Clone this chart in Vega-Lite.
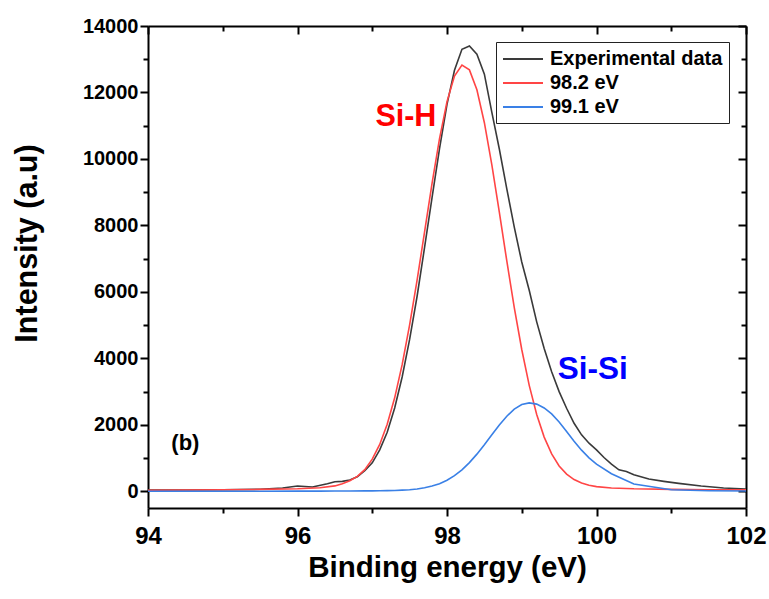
{
  "$schema": "https://vega.github.io/schema/vega-lite/v6.json",
  "width": 598,
  "height": 482,
  "autosize": "none",
  "padding": {"left": 148, "top": 26, "right": 23, "bottom": 91},
  "background": "white",
  "config": {
    "view": {"stroke": null},
    "font": "Liberation Sans",
    "axis": {"grid": false, "domainColor": "black", "domainWidth": 2, "tickColor": "black", "tickWidth": 2, "labelColor": "black", "titleColor": "black", "labelFont": "Liberation Sans", "titleFont": "Liberation Sans", "labelFontWeight": "bold", "titleFontWeight": "bold", "labelFlush": false, "labelOverlap": false}
  },
  "datasets": {
    "spectra": [
      {"x": 94, "series": "Experimental data", "y": 38},
      {"x": 94.5, "series": "Experimental data", "y": 42},
      {"x": 95, "series": "Experimental data", "y": 50},
      {"x": 95.5, "series": "Experimental data", "y": 62},
      {"x": 95.8, "series": "Experimental data", "y": 100},
      {"x": 96, "series": "Experimental data", "y": 160},
      {"x": 96.2, "series": "Experimental data", "y": 130},
      {"x": 96.4, "series": "Experimental data", "y": 230},
      {"x": 96.5, "series": "Experimental data", "y": 290},
      {"x": 96.6, "series": "Experimental data", "y": 300},
      {"x": 96.7, "series": "Experimental data", "y": 340},
      {"x": 96.8, "series": "Experimental data", "y": 440},
      {"x": 96.9, "series": "Experimental data", "y": 620},
      {"x": 97.0, "series": "Experimental data", "y": 860},
      {"x": 97.1, "series": "Experimental data", "y": 1250},
      {"x": 97.2, "series": "Experimental data", "y": 1780},
      {"x": 97.3, "series": "Experimental data", "y": 2510},
      {"x": 97.4, "series": "Experimental data", "y": 3440},
      {"x": 97.5, "series": "Experimental data", "y": 4570},
      {"x": 97.6, "series": "Experimental data", "y": 5870},
      {"x": 97.7, "series": "Experimental data", "y": 7340},
      {"x": 97.8, "series": "Experimental data", "y": 8840},
      {"x": 97.9, "series": "Experimental data", "y": 10310},
      {"x": 98.0, "series": "Experimental data", "y": 11640},
      {"x": 98.1, "series": "Experimental data", "y": 12670},
      {"x": 98.2, "series": "Experimental data", "y": 13300},
      {"x": 98.3, "series": "Experimental data", "y": 13400},
      {"x": 98.4, "series": "Experimental data", "y": 13150},
      {"x": 98.5, "series": "Experimental data", "y": 12550},
      {"x": 98.6, "series": "Experimental data", "y": 11400},
      {"x": 98.7, "series": "Experimental data", "y": 10300},
      {"x": 98.8, "series": "Experimental data", "y": 9100},
      {"x": 98.9, "series": "Experimental data", "y": 7950},
      {"x": 99.0, "series": "Experimental data", "y": 6900},
      {"x": 99.1, "series": "Experimental data", "y": 6050},
      {"x": 99.2, "series": "Experimental data", "y": 5100},
      {"x": 99.3, "series": "Experimental data", "y": 4300},
      {"x": 99.4, "series": "Experimental data", "y": 3600},
      {"x": 99.5, "series": "Experimental data", "y": 3000},
      {"x": 99.6, "series": "Experimental data", "y": 2500},
      {"x": 99.7, "series": "Experimental data", "y": 2050},
      {"x": 99.8, "series": "Experimental data", "y": 1700},
      {"x": 99.9, "series": "Experimental data", "y": 1450},
      {"x": 100.0, "series": "Experimental data", "y": 1250},
      {"x": 100.1, "series": "Experimental data", "y": 1020},
      {"x": 100.2, "series": "Experimental data", "y": 820},
      {"x": 100.3, "series": "Experimental data", "y": 650},
      {"x": 100.4, "series": "Experimental data", "y": 600},
      {"x": 100.5, "series": "Experimental data", "y": 500},
      {"x": 100.7, "series": "Experimental data", "y": 370},
      {"x": 100.9, "series": "Experimental data", "y": 300},
      {"x": 101.1, "series": "Experimental data", "y": 240},
      {"x": 101.4, "series": "Experimental data", "y": 160},
      {"x": 101.7, "series": "Experimental data", "y": 100},
      {"x": 102, "series": "Experimental data", "y": 70},

      {"x": 94, "series": "98.2 eV", "y": 35},
      {"x": 94.5, "series": "98.2 eV", "y": 40},
      {"x": 95, "series": "98.2 eV", "y": 48},
      {"x": 95.5, "series": "98.2 eV", "y": 60},
      {"x": 96, "series": "98.2 eV", "y": 80},
      {"x": 96.3, "series": "98.2 eV", "y": 110},
      {"x": 96.5, "series": "98.2 eV", "y": 165},
      {"x": 96.6, "series": "98.2 eV", "y": 230},
      {"x": 96.7, "series": "98.2 eV", "y": 320},
      {"x": 96.8, "series": "98.2 eV", "y": 450},
      {"x": 96.9, "series": "98.2 eV", "y": 655},
      {"x": 97.0, "series": "98.2 eV", "y": 968},
      {"x": 97.1, "series": "98.2 eV", "y": 1411},
      {"x": 97.2, "series": "98.2 eV", "y": 2018},
      {"x": 97.3, "series": "98.2 eV", "y": 2814},
      {"x": 97.4, "series": "98.2 eV", "y": 3813},
      {"x": 97.5, "series": "98.2 eV", "y": 5006},
      {"x": 97.6, "series": "98.2 eV", "y": 6358},
      {"x": 97.7, "series": "98.2 eV", "y": 7808},
      {"x": 97.8, "series": "98.2 eV", "y": 9264},
      {"x": 97.9, "series": "98.2 eV", "y": 10611},
      {"x": 98.0, "series": "98.2 eV", "y": 11726},
      {"x": 98.1, "series": "98.2 eV", "y": 12494},
      {"x": 98.2, "series": "98.2 eV", "y": 12826},
      {"x": 98.3, "series": "98.2 eV", "y": 12681},
      {"x": 98.4, "series": "98.2 eV", "y": 12080},
      {"x": 98.5, "series": "98.2 eV", "y": 11090},
      {"x": 98.6, "series": "98.2 eV", "y": 9823},
      {"x": 98.7, "series": "98.2 eV", "y": 8398},
      {"x": 98.8, "series": "98.2 eV", "y": 6932},
      {"x": 98.9, "series": "98.2 eV", "y": 5529},
      {"x": 99.0, "series": "98.2 eV", "y": 4268},
      {"x": 99.1, "series": "98.2 eV", "y": 3189},
      {"x": 99.2, "series": "98.2 eV", "y": 2314},
      {"x": 99.3, "series": "98.2 eV", "y": 1633},
      {"x": 99.4, "series": "98.2 eV", "y": 1127},
      {"x": 99.5, "series": "98.2 eV", "y": 766},
      {"x": 99.6, "series": "98.2 eV", "y": 519},
      {"x": 99.7, "series": "98.2 eV", "y": 355},
      {"x": 99.8, "series": "98.2 eV", "y": 250},
      {"x": 99.9, "series": "98.2 eV", "y": 184},
      {"x": 100.0, "series": "98.2 eV", "y": 143},
      {"x": 100.2, "series": "98.2 eV", "y": 102},
      {"x": 100.5, "series": "98.2 eV", "y": 77},
      {"x": 101, "series": "98.2 eV", "y": 61},
      {"x": 101.5, "series": "98.2 eV", "y": 51},
      {"x": 102, "series": "98.2 eV", "y": 45},

      {"x": 94, "series": "99.1 eV", "y": 3},
      {"x": 94.5, "series": "99.1 eV", "y": 3},
      {"x": 95, "series": "99.1 eV", "y": 4},
      {"x": 95.5, "series": "99.1 eV", "y": 5},
      {"x": 96, "series": "99.1 eV", "y": 7},
      {"x": 96.3, "series": "99.1 eV", "y": 9},
      {"x": 96.5, "series": "99.1 eV", "y": 10},
      {"x": 96.7, "series": "99.1 eV", "y": 12},
      {"x": 96.9, "series": "99.1 eV", "y": 14},
      {"x": 97.0, "series": "99.1 eV", "y": 16},
      {"x": 97.1, "series": "99.1 eV", "y": 19},
      {"x": 97.2, "series": "99.1 eV", "y": 22},
      {"x": 97.3, "series": "99.1 eV", "y": 28},
      {"x": 97.4, "series": "99.1 eV", "y": 37},
      {"x": 97.5, "series": "99.1 eV", "y": 51},
      {"x": 97.6, "series": "99.1 eV", "y": 73},
      {"x": 97.7, "series": "99.1 eV", "y": 108},
      {"x": 97.8, "series": "99.1 eV", "y": 159},
      {"x": 97.9, "series": "99.1 eV", "y": 232},
      {"x": 98.0, "series": "99.1 eV", "y": 335},
      {"x": 98.1, "series": "99.1 eV", "y": 472},
      {"x": 98.2, "series": "99.1 eV", "y": 649},
      {"x": 98.3, "series": "99.1 eV", "y": 866},
      {"x": 98.4, "series": "99.1 eV", "y": 1120},
      {"x": 98.5, "series": "99.1 eV", "y": 1403},
      {"x": 98.6, "series": "99.1 eV", "y": 1702},
      {"x": 98.7, "series": "99.1 eV", "y": 1995},
      {"x": 98.8, "series": "99.1 eV", "y": 2260},
      {"x": 98.9, "series": "99.1 eV", "y": 2474},
      {"x": 99.0, "series": "99.1 eV", "y": 2612},
      {"x": 99.1, "series": "99.1 eV", "y": 2662},
      {"x": 99.2, "series": "99.1 eV", "y": 2625},
      {"x": 99.3, "series": "99.1 eV", "y": 2510},
      {"x": 99.4, "series": "99.1 eV", "y": 2330},
      {"x": 99.5, "series": "99.1 eV", "y": 2090},
      {"x": 99.6, "series": "99.1 eV", "y": 1800},
      {"x": 99.7, "series": "99.1 eV", "y": 1510},
      {"x": 99.8, "series": "99.1 eV", "y": 1240},
      {"x": 99.9, "series": "99.1 eV", "y": 1010},
      {"x": 100.0, "series": "99.1 eV", "y": 820},
      {"x": 100.2, "series": "99.1 eV", "y": 530},
      {"x": 100.5, "series": "99.1 eV", "y": 220},
      {"x": 101, "series": "99.1 eV", "y": 50},
      {"x": 101.5, "series": "99.1 eV", "y": 20},
      {"x": 102, "series": "99.1 eV", "y": 12}
    ],
    "labels": [
      {"x": 97.45, "y": 11250, "text": "Si-H", "kind": "red"},
      {"x": 99.95, "y": 3665, "text": "Si-Si", "kind": "blue"},
      {"x": 94.5, "y": 1450, "text": "(b)", "kind": "black"}
    ]
  },
  "resolve": {"axis": {"x": "independent", "y": "independent"}},
  "layer": [
    {
      "data": {"name": "spectra"},
      "mark": {"type": "line", "strokeWidth": 1.6, "clip": true},
      "encoding": {
        "x": {"field": "x", "type": "quantitative", "scale": {"domain": [94, 102], "nice": false, "zero": false},
          "axis": {"orient": "bottom", "values": [94, 96, 98, 100, 102], "tickSize": 8, "labelFontSize": 24, "labelPadding": 8, "title": "Binding energy (eV)", "titleFontSize": 29.5, "titlePadding": 5}},
        "y": {"field": "y", "type": "quantitative", "scale": {"domain": [-500, 14000], "nice": false, "zero": false},
          "axis": {"orient": "left", "values": [0, 2000, 4000, 6000, 8000, 10000, 12000, 14000], "format": "d", "tickSize": 8, "labelFontSize": 20, "labelPadding": 2, "title": "Intensity (a.u)", "titleFontSize": 30.5, "titlePadding": 40, "titleY": 217}},
        "color": {"field": "series", "type": "nominal", "sort": ["Experimental data", "98.2 eV", "99.1 eV"],
          "scale": {"domain": ["Experimental data", "98.2 eV", "99.1 eV"], "range": ["#3a3a3a", "#ff4545", "#3a80e6"]},
          "legend": {"orient": "none", "legendX": 348, "legendY": 16, "title": null, "strokeColor": "#222222", "fillColor": "white", "padding": 6, "symbolType": "M-1,0H3", "symbolSize": 400, "symbolStrokeWidth": 2, "labelFontSize": 20, "labelFont": "Liberation Sans", "labelFontWeight": "bold", "labelColor": "black", "labelOffset": 26, "rowPadding": 3, "labelLimit": 400}}
      }
    },
    {
      "data": {"name": "spectra"},
      "mark": {"type": "point", "opacity": 0},
      "encoding": {
        "x": {"field": "x", "type": "quantitative", "axis": {"orient": "bottom", "values": [95, 97, 99, 101], "tickSize": 5, "labels": false, "domain": false, "title": null}},
        "y": {"field": "y", "type": "quantitative", "axis": {"orient": "left", "values": [1000, 3000, 5000, 7000, 9000, 11000, 13000], "tickSize": 5, "labels": false, "domain": false, "title": null}}
      }
    },
    {
      "data": {"name": "spectra"},
      "mark": {"type": "point", "opacity": 0},
      "encoding": {
        "x": {"field": "x", "type": "quantitative", "axis": {"orient": "top", "values": [94, 96, 98, 100, 102], "tickSize": -8, "labels": false, "title": null}},
        "y": {"field": "y", "type": "quantitative", "axis": {"orient": "right", "values": [0, 2000, 4000, 6000, 8000, 10000, 12000, 14000], "tickSize": -8, "labels": false, "title": null}}
      }
    },
    {
      "data": {"name": "spectra"},
      "mark": {"type": "point", "opacity": 0},
      "encoding": {
        "x": {"field": "x", "type": "quantitative", "axis": {"orient": "top", "values": [95, 97, 99, 101], "tickSize": -5, "labels": false, "domain": false, "title": null}},
        "y": {"field": "y", "type": "quantitative", "axis": {"orient": "right", "values": [1000, 3000, 5000, 7000, 9000, 11000, 13000], "tickSize": -5, "labels": false, "domain": false, "title": null}}
      }
    },
    {
      "data": {"name": "labels"},
      "transform": [{"filter": "datum.kind === 'red'"}],
      "mark": {"type": "text", "font": "Liberation Sans", "fontWeight": "bold", "fontSize": 30.5, "align": "center", "baseline": "middle", "color": "#ff0000"},
      "encoding": {
        "x": {"field": "x", "type": "quantitative", "axis": null},
        "y": {"field": "y", "type": "quantitative", "axis": null},
        "text": {"field": "text"}
      }
    },
    {
      "data": {"name": "labels"},
      "transform": [{"filter": "datum.kind === 'blue'"}],
      "mark": {"type": "text", "font": "Liberation Sans", "fontWeight": "bold", "fontSize": 31.5, "align": "center", "baseline": "middle", "color": "#0000ff"},
      "encoding": {
        "x": {"field": "x", "type": "quantitative", "axis": null},
        "y": {"field": "y", "type": "quantitative", "axis": null},
        "text": {"field": "text"}
      }
    },
    {
      "data": {"name": "labels"},
      "transform": [{"filter": "datum.kind === 'black'"}],
      "mark": {"type": "text", "font": "Liberation Sans", "fontWeight": "bold", "fontSize": 22, "align": "center", "baseline": "middle", "color": "black"},
      "encoding": {
        "x": {"field": "x", "type": "quantitative", "axis": null},
        "y": {"field": "y", "type": "quantitative", "axis": null},
        "text": {"field": "text"}
      }
    }
  ]
}
